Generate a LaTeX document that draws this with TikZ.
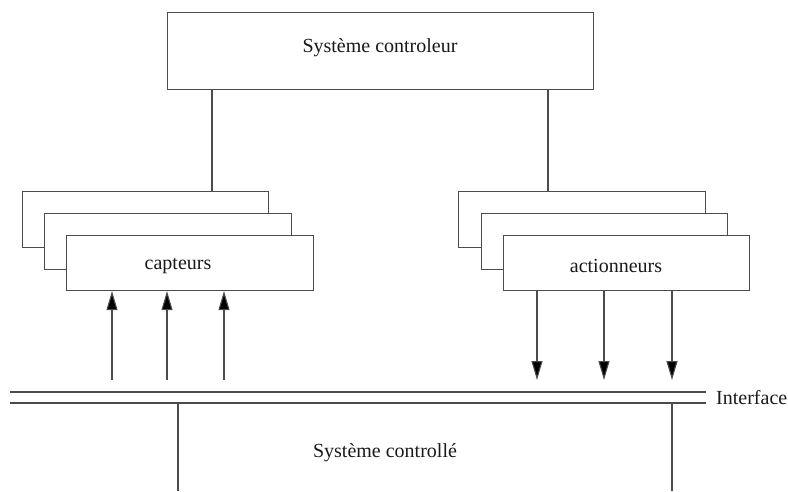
\documentclass[tikz,border=0pt]{standalone}
\usepackage{fontspec}
\setmainfont{Liberation Serif}
\usetikzlibrary{arrows.meta}
\begin{document}
\begin{tikzpicture}[x=1pt,y=-1pt,
  line/.style={draw=black!70,line width=1.1pt},
  blk/.style={line,fill=white,rectangle,inner sep=0pt,anchor=north west},
  lbl/.style={font=\fontsize{20}{22}\selectfont,text=black!90,inner sep=0pt},
  arr/.style={line,-{Triangle[length=19pt,width=11pt,fill=black]}}]
\useasboundingbox (0,0) rectangle (788,491);

% controller
\node[blk,minimum width=426pt,minimum height=77pt] (ctrl) at (167,12) {};
\node[lbl] (ctrlT) at (380,48) {Système controleur};

% sensor stack
\node[blk,minimum width=246pt,minimum height=56pt] (capC) at (22,191) {};
\node[blk,minimum width=247pt,minimum height=56pt] (capB) at (44,213) {};
\node[blk,minimum width=247pt,minimum height=55pt] (capA) at (66,235) {};
\node[lbl] (capT) at (178,266) {capteurs};

% actuator stack
\node[blk,minimum width=247pt,minimum height=56pt] (actC) at (458,191) {};
\node[blk,minimum width=246pt,minimum height=56pt] (actB) at (481,213) {};
\node[blk,minimum width=246pt,minimum height=55pt] (actA) at (503,235) {};
\node[lbl] (actT) at (616,266) {actionneurs};

% links from controller
\coordinate (cl) at (212,0);
\coordinate (cr) at (548,0);
\draw[line] (ctrl.south -| cl) -- (capC.north -| cl);
\draw[line] (ctrl.south -| cr) -- (actC.north -| cr);

% interface
\coordinate (i1w) at (10,392);
\coordinate (i1e) at (706,392);
\coordinate (i2w) at (10,403);
\coordinate (i2e) at (706,403);
\draw[line] (i1w) -- (i1e);
\draw[line] (i2w) -- (i2e);
\node[lbl,anchor=west] (ifT) at (716,398) {Interface};

% measurements (upward)
\foreach \i/\x in {1/112,2/167,3/224}{
  \coordinate (s\i) at (\x,380);
  \draw[arr] (s\i) -- (capA.south -| s\i);
}
% commands (downward)
\foreach \i/\x in {1/537,2/604,3/672}{
  \coordinate (a\i) at (\x,380);
  \draw[arr] (actA.south -| a\i) -- (a\i);
}

% controlled system
\coordinate (pl) at (178,491);
\coordinate (pr) at (672,491);
\draw[line] (i2w -| pl) -- (pl);
\draw[line] (i2w -| pr) -- (pr);
\node[lbl] (plT) at (385,453) {Système controllé};
\end{tikzpicture}
\end{document}
